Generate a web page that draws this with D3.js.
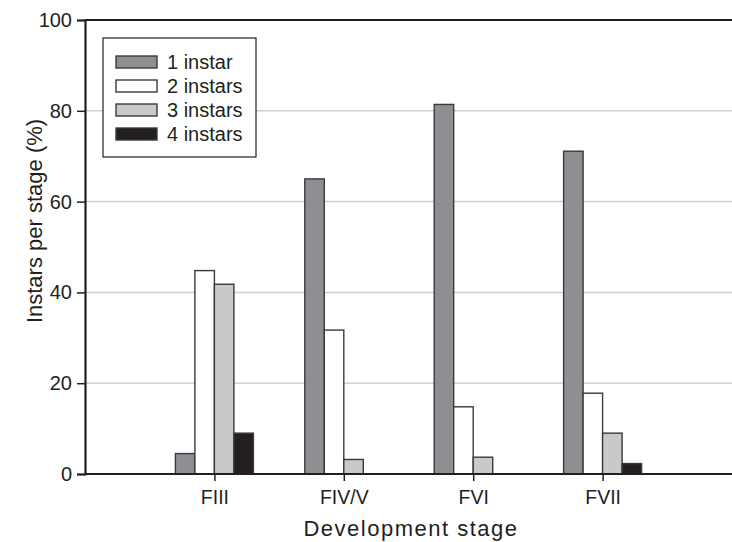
<!DOCTYPE html>
<html>
<head>
<meta charset="utf-8">
<script src="https://cdn.jsdelivr.net/npm/d3@7"></script>
<style>
  body { margin: 0; background: #fff; }
  svg { display: block; font-family: "Liberation Sans", Arial, Helvetica, sans-serif; }
</style>
</head>
<body>
<div class="wrapper"></div>
<script>
var width = 732,
    height = 542,
    margin = {top: 20, right: 0, bottom: 68, left: 85};

// data
var stages = ["FIII", "FIV/V", "FVI", "FVII"];
var seriesNames = ["1 instar", "2 instars", "3 instars", "4 instars"];
var oneInstar   = [4.5, 65.0, 81.4, 71.1];
var twoInstars  = [44.8, 31.7, 14.8, 17.8];
var threeInstars = [41.8, 3.2, 3.7, 9.0];
var fourInstars = [9.0, 0, 0, 2.3];
var yTicks = [0, 20, 40, 60, 80, 100];

var seriesValues = [oneInstar, twoInstars, threeInstars, fourInstars];
var fills = ["#8e8f93", "#ffffff", "#c8c9cb", "#231f20"];

var x = d3.scalePoint()
    .domain(stages)
    .range([margin.left, width - margin.right])
    .padding(1);

var y = d3.scaleLinear()
    .domain([0, 100])
    .range([height - margin.bottom, margin.top]);

var barW = 19.5;
var inner = d3.scaleBand()
    .domain(seriesNames)
    .range([-2 * barW, 2 * barW]);

var color = d3.scaleOrdinal().domain(seriesNames).range(fills);

var svg = d3.select(".wrapper").append("svg")
    .attr("width", width)
    .attr("height", height);

// gridlines
svg.append("g")
  .selectAll("line")
  .data(yTicks.filter(function(d) { return d > 0 && d < 100; }))
  .enter().append("line")
    .attr("x1", margin.left)
    .attr("x2", width)
    .attr("y1", function(d) { return y(d); })
    .attr("y2", function(d) { return y(d); })
    .attr("stroke", "#cfcfcf")
    .attr("stroke-width", 1.5);

// top frame line
svg.append("line")
    .attr("x1", margin.left).attr("x2", width)
    .attr("y1", y(100)).attr("y2", y(100))
    .attr("stroke", "#231f20").attr("stroke-width", 2.2);

// bars
var rows = [];
stages.forEach(function(s, i) {
  seriesNames.forEach(function(n, j) {
    rows.push({stage: s, series: n, value: seriesValues[j][i]});
  });
});

svg.append("g")
  .selectAll("rect")
  .data(rows.filter(function(d) { return d.value > 0; }))
  .enter().append("rect")
    .attr("x", function(d) { return x(d.stage) + inner(d.series); })
    .attr("y", function(d) { return y(d.value); })
    .attr("width", inner.bandwidth())
    .attr("height", function(d) { return y(0) - y(d.value); })
    .attr("fill", function(d) { return color(d.series); })
    .attr("stroke", "#3a3a3a")
    .attr("stroke-width", 1.4);

// y axis
var yAxis = svg.append("g")
    .attr("transform", "translate(" + margin.left + ",0)")
    .call(d3.axisLeft(y).tickValues(yTicks).tickSize(8).tickPadding(5));
yAxis.select(".domain").attr("stroke", "#231f20").attr("stroke-width", 2.2);
yAxis.selectAll(".tick line").attr("stroke", "#231f20").attr("stroke-width", 1.5);
yAxis.selectAll("text").attr("font-size", 20).attr("fill", "#231f20")
    .attr("font-family", "Liberation Sans, Arial, sans-serif");

// x axis
var xAxis = svg.append("g")
    .attr("transform", "translate(0," + y(0) + ")")
    .call(d3.axisBottom(x).tickSizeOuter(0).tickSize(7).tickPadding(9));
xAxis.select(".domain").attr("stroke", "#231f20").attr("stroke-width", 2.2)
    .attr("d", "M" + margin.left + ",0H" + width);
xAxis.selectAll(".tick line").attr("stroke", "#231f20").attr("stroke-width", 1.5);
xAxis.selectAll("text").attr("font-size", 19.5).attr("fill", "#231f20")
    .attr("font-family", "Liberation Sans, Arial, sans-serif");

// axis titles
svg.append("text")
    .attr("x", 411)
    .attr("y", 536)
    .attr("text-anchor", "middle")
    .attr("font-size", 22)
    .attr("letter-spacing", 1.5)
    .attr("fill", "#231f20")
    .text("Development stage");

svg.append("text")
    .attr("transform", "translate(42,221) rotate(-90)")
    .attr("text-anchor", "middle")
    .attr("font-size", 22)
    .attr("fill", "#231f20")
    .text("Instars per stage (%)");

// legend
var legend = svg.append("g").attr("transform", "translate(103,38)");
legend.append("rect")
    .attr("width", 153).attr("height", 119)
    .attr("fill", "#fff").attr("stroke", "#231f20").attr("stroke-width", 1.2);

var item = legend.selectAll(".item")
  .data(seriesNames)
  .enter().append("g")
    .attr("class", "item")
    .attr("transform", function(d, i) { return "translate(13," + (18 + i * 24) + ")"; });

item.append("rect")
    .attr("width", 41).attr("height", 12)
    .attr("fill", function(d) { return color(d); })
    .attr("stroke", "#3a3a3a").attr("stroke-width", 1.4);

item.append("text")
    .attr("x", 51)
    .attr("y", 13)
    .attr("font-size", 20)
    .attr("fill", "#231f20")
    .text(function(d) { return d; });
</script>
</body>
</html>
